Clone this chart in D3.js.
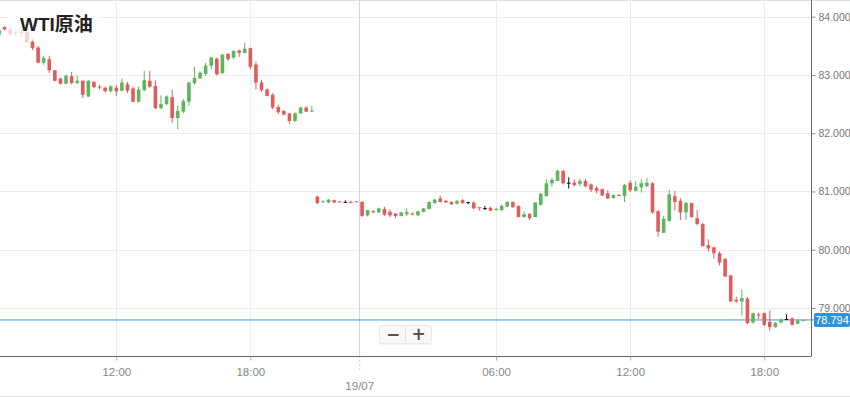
<!DOCTYPE html>
<html><head><meta charset="utf-8">
<script src="https://cdn.jsdelivr.net/npm/d3@7"></script>
<style>html,body{margin:0;padding:0;background:#fff;overflow:hidden}</style>
</head><body><svg id="c" width="850" height="397"></svg>
<script>
const title = "WTI原油";
// 15-minute candles, slot 0 = 18/07 06:45 ... slot 144 = 19/07 19:45 (1h break after slot 56)
const opens = [
83.69,83.82,83.78,83.72,83.74,83.73,83.57,83.47,83.21,83.27,
83.08,82.94,82.85,82.98,82.86,82.90,82.63,82.88,82.80,82.78,
82.72,82.78,82.73,82.84,82.77,82.54,82.74,82.90,82.81,82.43,
82.50,82.62,82.26,82.37,82.54,82.86,82.94,83.02,83.16,83.28,
83.03,83.36,83.30,83.42,83.38,83.46,83.18,82.87,82.75,82.66,
82.45,82.38,82.34,82.21,82.34,82.44,82.37,80.91,80.82,80.81,
80.85,80.83,80.82,80.82,80.83,80.82,80.59,80.66,80.64,80.70,
80.65,80.62,80.58,80.61,80.62,80.59,80.65,80.70,80.80,80.88,
80.84,80.82,80.79,80.85,80.82,80.81,80.73,80.715,80.72,80.69,
80.68,80.74,80.82,80.75,80.56,80.61,80.56,80.77,80.92,81.14,
81.18,81.35,81.15,81.15,81.13,81.18,81.12,81.06,81.04,80.97,
80.89,80.94,80.92,81.15,81.01,81.07,81.09,81.14,80.66,80.29,
80.49,80.92,80.84,80.64,80.80,80.54,80.44,80.08,80.04,79.94,
79.84,79.56,79.14,79.11,79.16,78.75,78.89,78.91,78.76,78.67,
78.75,78.81,78.82,78.73,78.78];
const highs = [
83.79,83.84,83.82,83.77,83.79,83.75,83.62,83.50,83.33,83.33,
83.09,82.95,83.00,83.05,82.99,82.91,82.91,82.90,82.83,82.80,
82.83,82.83,82.94,82.88,82.80,82.80,83.07,83.07,82.91,82.65,
82.65,82.74,82.47,82.59,82.88,83.14,83.06,83.21,83.31,83.30,
83.36,83.38,83.43,83.44,83.55,83.47,83.23,82.92,82.77,82.69,
82.49,82.40,82.35,82.36,82.46,82.46,82.47,80.93,80.85,80.87,
80.86,80.83,80.85,80.84,80.83,80.83,80.68,80.68,80.72,80.74,
80.69,80.63,80.65,80.71,80.64,80.67,80.72,80.83,80.87,80.93,
80.85,80.83,80.85,80.87,80.82,80.83,80.73,80.75,80.74,80.72,
80.78,80.83,80.83,80.76,80.66,80.63,80.82,80.98,81.21,81.23,
81.37,81.37,81.24,81.21,81.22,81.22,81.14,81.09,81.05,81.02,
80.95,80.95,81.13,81.19,81.18,81.21,81.23,81.16,80.68,80.58,
81.03,81.01,80.88,80.82,80.81,80.68,80.46,80.18,80.05,79.97,
79.86,79.57,79.19,79.32,79.19,78.92,78.92,78.92,78.96,78.76,
78.82,78.89,78.84,78.80,78.795];
const lows = [
83.67,83.77,83.67,83.66,83.65,83.57,83.43,83.20,83.17,83.03,
82.89,82.84,82.84,82.84,82.84,82.60,82.62,82.77,82.75,82.70,
82.70,82.64,82.72,82.69,82.53,82.53,82.72,82.78,82.41,82.41,
82.48,82.18,82.07,82.34,82.47,82.83,82.93,82.99,83.10,82.99,
83.02,83.24,83.27,83.31,83.37,83.10,82.75,82.71,82.63,82.41,
82.33,82.30,82.16,82.19,82.33,82.36,82.37,80.78,80.81,80.80,
80.80,80.82,80.82,80.81,80.82,80.56,80.57,80.63,80.63,80.58,
80.56,80.54,80.57,80.58,80.59,80.58,80.64,80.69,80.79,80.81,
80.81,80.77,80.78,80.79,80.78,80.70,80.67,80.68,80.66,80.67,
80.66,80.73,80.72,80.56,80.55,80.51,80.56,80.76,80.91,81.08,
81.18,81.12,81.05,81.08,81.09,81.07,80.99,80.97,80.92,80.87,
80.87,80.92,80.82,80.99,81.00,80.98,81.08,80.62,80.22,80.29,
80.49,80.68,80.51,80.52,80.55,80.42,80.06,79.97,79.85,79.73,
79.53,79.11,79.09,78.87,78.72,78.73,78.81,78.69,78.61,78.66,
78.73,78.81,78.70,78.72,78.78];
const closes = [
83.77,83.78,83.70,83.73,83.72,83.58,83.46,83.21,83.29,83.08,
82.90,82.85,82.99,82.86,82.90,82.66,82.90,82.79,82.79,82.72,
82.80,82.72,82.87,82.73,82.54,82.75,82.91,82.80,82.43,82.50,
82.63,82.26,82.38,82.55,82.87,82.95,83.04,83.16,83.30,83.01,
83.35,83.27,83.41,83.38,83.45,83.14,82.87,82.74,82.64,82.44,
82.36,82.32,82.21,82.34,82.44,82.37,82.39,80.80,80.83,80.86,
80.81,80.82,80.82,80.81,80.82,80.58,80.68,80.64,80.71,80.60,
80.59,80.58,80.64,80.65,80.61,80.66,80.71,80.82,80.86,80.82,
80.81,80.78,80.84,80.80,80.82,80.71,80.72,80.715,80.67,80.70,
80.75,80.82,80.73,80.56,80.61,80.54,80.81,80.96,81.14,81.20,
81.35,81.14,81.15,81.11,81.18,81.09,81.03,81.01,80.93,80.88,
80.94,80.925,81.11,81.02,81.08,81.14,81.15,80.64,80.31,80.53,
80.95,80.82,80.64,80.80,80.56,80.44,80.06,80.02,79.94,79.78,
79.54,79.11,79.11,79.17,78.74,78.91,78.87,78.71,78.67,78.74,
78.80,78.81,78.71,78.78,78.794];
const xTickSlots = [21, 45, 64.5, 89, 113, 137];
const xTickLabels = ["12:00", "18:00", "19/07", "06:00", "12:00", "18:00"];
const dayBreakLabel = "19/07";
const yTickValues = [79, 80, 81, 82, 83, 84];
const lastPrice = 78.794;

const svg = d3.select("#c");
const W = 811, H = 356;
const UP = "#5db55d", DOWN = "#e15b5b";

const x = d3.scaleLinear().domain([0, 144]).range([-1, 803.3]);
const y = d3.scaleLinear().domain([78.175, 84.287]).range([H, 0]);

svg.append("defs").append("clipPath").attr("id", "plot")
  .append("rect").attr("x", 0).attr("y", 0).attr("width", W).attr("height", H);

// frame lines
svg.append("line").attr("x1", 0).attr("x2", 850).attr("y1", 0.5).attr("y2", 0.5).attr("stroke", "#dedede");
svg.append("line").attr("x1", 0).attr("x2", 850).attr("y1", 396.5).attr("y2", 396.5).attr("stroke", "#dedede");

// horizontal grid
svg.append("g").selectAll("line").data(yTickValues).join("line")
  .attr("x1", 0).attr("x2", W)
  .attr("y1", d => Math.round(y(d)) + 0.5).attr("y2", d => Math.round(y(d)) + 0.5)
  .attr("stroke", "#ececec");

// vertical grid
svg.append("g").selectAll("line").data(xTickSlots).join("line")
  .attr("x1", d => Math.round(x(d)) + 0.5).attr("x2", d => Math.round(x(d)) + 0.5)
  .attr("y1", 0).attr("y2", H)
  .attr("stroke", (d, i) => xTickLabels[i] === dayBreakLabel ? "#d6d6d6" : "#ececec");

// current price line
svg.append("line").attr("x1", 0).attr("x2", W + 3)
  .attr("y1", y(lastPrice)).attr("y2", y(lastPrice))
  .attr("stroke", "#3a96d8").attr("stroke-width", 1);

// candles
const candles = d3.range(opens.length).map(i => ({i, o: opens[i], h: highs[i], l: lows[i], c: closes[i]}));
const col = d => d.o === d.c ? "#111" : (d.c > d.o ? UP : DOWN);
const cg = svg.append("g").attr("clip-path", "url(#plot)");
cg.selectAll("line").data(candles).join("line")
  .attr("x1", d => x(d.i)).attr("x2", d => x(d.i))
  .attr("y1", d => y(d.h)).attr("y2", d => y(d.l))
  .attr("stroke", col).attr("stroke-width", 1);
cg.selectAll("rect").data(candles).join("rect")
  .attr("x", d => x(d.i) - 1.8).attr("width", 3.6)
  .attr("y", d => y(Math.max(d.o, d.c)))
  .attr("height", d => Math.max(1, Math.abs(y(d.o) - y(d.c))))
  .attr("fill", col);

// axes
const yAxis = svg.append("g").attr("transform", `translate(${W + 0.5},0)`)
  .call(d3.axisRight(y).tickValues(yTickValues).tickFormat(d3.format(".3f")).tickSize(4).tickPadding(3));
yAxis.select(".domain").attr("stroke", "#666").attr("d", `M0,0V${H}`);
yAxis.selectAll(".tick line").attr("stroke", "#888");
yAxis.selectAll("text").attr("fill", "#777").style("font", "10.5px 'Liberation Sans', Arial, sans-serif");

const xAxis = svg.append("g").attr("transform", `translate(0,${H + 0.5})`)
  .call(d3.axisBottom(x).tickValues(xTickSlots).tickFormat((d, i) => xTickLabels[i]).tickSize(4).tickPadding(7));
xAxis.select(".domain").attr("stroke", "#666").attr("d", `M0,0H${W + 0.5}`);
xAxis.selectAll(".tick line").attr("stroke", "#aaa");
xAxis.selectAll("text").attr("fill", "#888").style("font", "11.5px 'Liberation Sans', Arial, sans-serif");
xAxis.selectAll(".tick").filter((d, i) => xTickLabels[i] === dayBreakLabel).each(function () {
  const t = d3.select(this);
  t.select("line").attr("y2", 16).attr("stroke", "#999").attr("stroke-dasharray", "1,3");
  t.select("text").attr("dy", "1.95em");
});

// price label
const py = y(lastPrice);
svg.append("rect").attr("x", 814).attr("y", py - 7).attr("width", 36).attr("height", 14)
  .attr("rx", 2).attr("fill", "#2e93dc");
svg.append("text").attr("x", 832).attr("y", py + 4).attr("text-anchor", "middle")
  .attr("fill", "#fff").style("font", "11px 'Liberation Sans', Arial, sans-serif").text(d3.format(".3f")(lastPrice));

// title with translucent backdrop
svg.append("rect").attr("x", 8).attr("y", 7).attr("width", 94).attr("height", 34)
  .attr("fill", "#fff").attr("opacity", 0.72);
svg.append("text").attr("x", 20).attr("y", 31)
  .style("font", "bold 19px 'Liberation Sans', 'Noto Sans CJK SC', sans-serif")
  .attr("fill", "#222").text(title);

// zoom buttons
const zb = svg.append("g");
zb.append("rect").attr("x", 379.5).attr("y", 326.5).attr("width", 52).attr("height", 18).attr("rx", 2)
  .attr("fill", "#e6e6e6");
zb.append("rect").attr("x", 379.5).attr("y", 325.5).attr("width", 52).attr("height", 18).attr("rx", 2)
  .attr("fill", "#f8f8f8").attr("stroke", "#e8e8e8");
zb.append("line").attr("x1", 405.5).attr("x2", 405.5).attr("y1", 327).attr("y2", 342).attr("stroke", "#e2e2e2");
zb.append("text").attr("x", 393).attr("y", 340).attr("text-anchor", "middle")
  .style("font", "bold 17px 'DejaVu Sans', sans-serif").attr("fill", "#555").text("−");
zb.append("text").attr("x", 418.5).attr("y", 340).attr("text-anchor", "middle")
  .style("font", "bold 17px 'DejaVu Sans', sans-serif").attr("fill", "#555").text("+");
</script>
</body></html>
